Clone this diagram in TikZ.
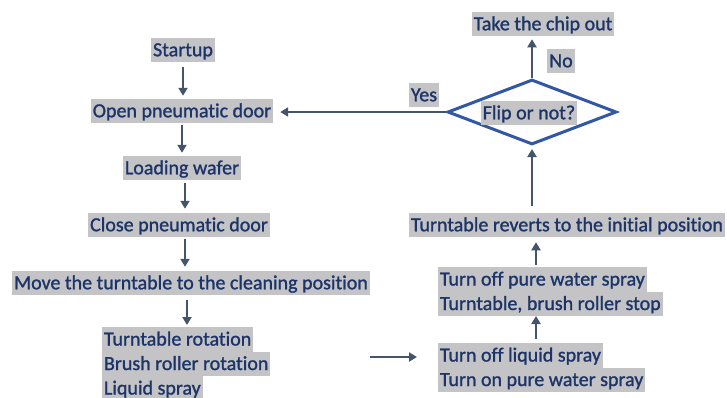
\documentclass[tikz,border=0pt]{standalone}
\usepackage{fontspec}
\setmainfont{Carlito}
\newfontfamily\stagefont{Carlito}[FakeBold=1.2,Ligatures=NoCommon]
\usetikzlibrary{arrows.meta,positioning,shapes.geometric}
\definecolor{txtblue}{HTML}{1C3468}
\definecolor{hlgray}{HTML}{C4C4C6}
\definecolor{arrgray}{HTML}{44546A}
\definecolor{dmdblue}{HTML}{3157A5}
\setlength{\fboxsep}{0pt}
\newcommand{\hlline}[1]{\colorbox{hlgray}{\hspace{2bp}\rule[-6bp]{0pt}{24.5bp}#1\hspace{2bp}}}

\begin{document}
\begin{tikzpicture}[x=1bp,y=-1bp,
    stage/.style={inner sep=0pt,outer sep=0pt,text=txtblue,align=left,
      font=\stagefont\fontsize{20bp}{24.5bp}\selectfont},
    arr/.style={draw=arrgray,line width=2.5bp,-{Triangle[length=8bp,width=9bp]}},
    decide/.style={diamond,draw=dmdblue,line width=3bp,inner sep=0pt,
      minimum width=169bp,minimum height=65bp}]
    \useasboundingbox (0,0) rectangle (727,397);

    % left column
    \node[stage] (start) at (183,50)  {\hlline{Startup}};
    \node[stage] (open)  at (182,111) {\hlline{Open pneumatic door}};
    \node[stage] (load)  at (182,168) {\hlline{Loading wafer}};
    \node[stage] (close) at (179,225) {\hlline{Close pneumatic door}};
    \node[stage] (move)  at (191,283) {\hlline{Move the turntable to the cleaning position}};
    \node[stage,anchor=north west] (rot) at (102,327)
      {\hlline{Turntable rotation}\\\hlline{Brush roller rotation}\\\hlline{Liquid spray}};

    % right column
    \node[stage,anchor=north west] (liq) at (438,343)
      {\hlline{Turn off liquid spray}\\\hlline{Turn on pure water spray}};
    \node[stage,anchor=north west] (pure) at (438,267)
      {\hlline{Turn off pure water spray}\\\hlline{Turntable, brush roller stop}};
    \node[stage] (rev)  at (567,225) {\hlline{Turntable reverts to the initial position}};
    \node[decide] (dec) at (532,112) {};
    \node[stage] (flip) at (529,113) {\hlline{Flip or not?}};
    \node[stage] (take) at (543,24)  {\hlline{Take the chip out}};
    \node[stage] (no)   at (561,61)  {\hlline{No}};
    \node[stage] (yes)  at (424,95)  {\hlline{Yes}};

    \coordinate (hs) at (370,357);
    \coordinate (lx) at (185,0);
    \coordinate (mx) at (187,0);
    \coordinate (rx) at (536,0);

    % connectors
    \draw[arr,shorten <=5bp,shorten >=3bp] (start.south) -- (start.south |- open.north);
    \draw[arr,shorten <=2bp,shorten >=3bp] (open.south) -- (open.south |- load.north);
    \draw[arr,shorten <=3bp,shorten >=4bp] (load.south -| lx) -- (close.north -| lx);
    \draw[arr,shorten <=2bp,shorten >=4bp] (close.south -| lx) -- (move.north -| lx);
    \draw[arr,shorten <=5bp,shorten >=2bp] (move.south -| mx) -- (rot.north -| mx);
    \draw[arr,shorten >=21bp] (hs) -- (hs -| liq.west);
    \draw[arr,shorten <=4bp] (liq.north -| rx) -- (pure.south -| rx);
    \draw[arr,shorten <=2bp,shorten >=5bp] (pure.north -| rx) -- (rev.south -| rx);
    \draw[arr,shorten <=7bp,shorten >=3bp] (rev.north -| dec.south) -- (dec.south);
    \draw[arr,shorten >=3bp] (dec.north) -- (dec.north |- take.south);
    \draw[arr,shorten >=7bp] (dec.west) -- (open.east |- dec.west);
\end{tikzpicture}
\end{document}
